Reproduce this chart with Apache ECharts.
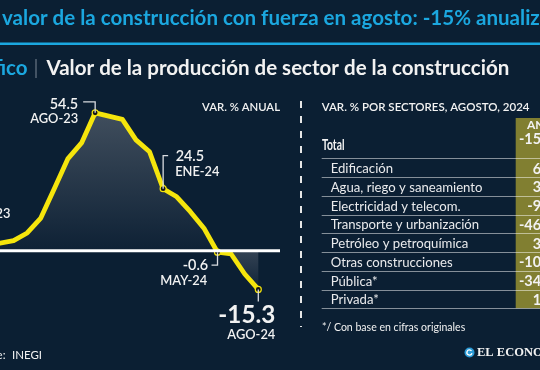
<!DOCTYPE html>
<html><head><meta charset="utf-8">
<script src="https://cdn.jsdelivr.net/npm/echarts@6/dist/echarts.min.js"></script>
<style>html,body{margin:0;padding:0;background:#0b1f33;overflow:hidden}#c{width:540px;height:370px}</style>
</head><body><div id="c"></div>
<script>
// ---- data ----
const months = ['ENE-23','FEB-23','MAR-23','ABR-23','MAY-23','JUN-23','JUL-23','AGO-23','SEP-23','OCT-23','NOV-23','DIC-23','ENE-24','FEB-24','MAR-24','ABR-24','MAY-24','JUN-24','JUL-24','AGO-24'];
const variation = [3.0,4.0,7.0,12.9,24.6,36.4,42.6,54.5,53.2,51.9,43.8,39.1,24.5,21.3,15.4,8.9,-0.6,-1.3,-9.2,-15.3];
const labeledMonths = ['AGO-23','ENE-24','MAY-24','AGO-24'];
const sectors = ['Edificación','Agua, riego y saneamiento','Electricidad y telecom.','Transporte y urbanización','Petróleo y petroquímica','Otras construcciones','Pública*','Privada*'];
const sectorValues = [6.9, 3.8, -9.7, -46.2, 3.5, -10.6, -34.9, 1.2];
const totalLabel = 'Total';
const totalValue = -15.3;
const titleText = 'valor de la construcción con fuerza en agosto: -15% anualizado';
const subtitleText = 'Valor de la producción de sector de la construcción';

// ---- styles ----
const BG = '#0b1f33', CYAN = '#1ba7df', YEL = '#f5e50c', OLIVE = '#817f31', WHITE = '#f2f2f2';
const SANS = 'Lato, "Noto Sans", sans-serif';
const ctx = document.createElement('canvas').getContext('2d');
function fit(text, weight, family, width){ ctx.font = weight + ' 100px ' + family; return 100 * width / ctx.measureText(text).width; }
function T(x, y, text, size, opts){
  opts = opts || {};
  const el = {type:'text', x:x, y:y, silent:true, z:opts.z||10, style:{text:text, fill:opts.fill||WHITE,
    fontSize:size, fontWeight:opts.weight||'normal', fontFamily:opts.family||SANS,
    align:opts.align||'left', verticalAlign:'middle'}};
  if (opts.scaleX) el.scaleX = opts.scaleX;
  return el;
}
function L(points, color, width, dash){ return {type:'polyline', silent:true, z:9, shape:{points:points}, style:{stroke:color, lineWidth:width, fill:null, lineDash:dash||null}}; }

const chart = echarts.init(document.getElementById('c'));
const Y0 = 250.7, PX = 2.53, yMin = -20, yMax = 60;
chart.setOption({
  backgroundColor: BG,
  animation:false,
  grid:{left:-10.9, width:269.2, top:Y0 - yMax*PX, height:(yMax - yMin)*PX, containLabel:false},
  xAxis:{type:'category', data:months, boundaryGap:false, show:false},
  yAxis:{type:'value', min:yMin, max:yMax, show:false},
  series:[{type:'line', data:variation, showAllSymbol:true, symbol:'circle',
    symbolSize:function(v, p){ return labeledMonths.indexOf(months[p.dataIndex]) >= 0 ? 6 : 0; },
    itemStyle:{color:'#161616', borderColor:YEL, borderWidth:1.2},
    lineStyle:{color:YEL, width:4.8, join:'round', cap:'round'},
    areaStyle:{origin:0, color:'rgba(80,90,100,0.5)'}, z:3}]
});

const pt = months.map((m, i) => chart.convertToPixel({gridIndex:0}, [m, variation[i]]));
const zeroY = chart.convertToPixel({yAxisIndex:0}, 0);
const yTop = Math.min.apply(null, pt.map(p => p[1])), yBot = Math.max.apply(null, pt.map(p => p[1]));
const zo = (zeroY - yTop) / (yBot - yTop);
const grad = new echarts.graphic.LinearGradient(0, yTop, 0, yBot, [
  {offset:0, color:'#57626f'}, {offset:zo, color:'#0f2236'},
  {offset:Math.min(zo + 0.01, 1), color:'#435060'}, {offset:1, color:'#11253a'}], true);

const P = m => pt[months.indexOf(m)];
const g = [];
// header
const tSize = fit('valor de la construcción con fuerza en agosto: -15% anualiz', 'bold', SANS, 538);
g.push(T(2, 18, titleText, tSize, {fill:CYAN, weight:'bold'}));
g.push({type:'rect', silent:true, shape:{x:0, y:42.5, width:540, height:2.5}, style:{fill:CYAN}});
const sSize = fit(subtitleText, 'bold', SANS, 463);
g.push(T(27.5, 68, 'Gráfico', sSize, {fill:CYAN, weight:'bold', align:'right'}));
g.push({type:'rect', silent:true, shape:{x:35.5, y:59, width:1, height:19}, style:{fill:'#7d8796'}});
g.push(T(46.5, 68, subtitleText, sSize, {weight:'bold'}));
// chart
g.push(L([[0, zeroY], [280, zeroY]], '#ffffff', 3));
g.push(T(280, 107, 'VAR. % ANUAL', fit('VAR. % ANUAL', '600', SANS, 78), {align:'right', weight:'600'}));
const nSize = fit('54.5', '600', SANS, 28.5), mSize = fit('AGO-23', '600', SANS, 48);
const LC = '#d8dbe0';
let p = P('AGO-23');
g.push(L([[p[0], p[1]], [p[0], p[1]-11], [p[0]-12, p[1]-11]], LC, 1.3));
g.push(T(p[0]-17, p[1]-8.7, variation[months.indexOf('AGO-23')].toFixed(1), nSize, {align:'right', weight:'600'}));
g.push(T(p[0]-17, p[1]+6, 'AGO-23', mSize, {align:'right', weight:'600'}));
p = P('ENE-24');
g.push(L([[p[0], p[1]], [p[0], p[1]-33], [p[0]+5, p[1]-33]], LC, 1.3));
g.push(T(p[0]+12.5, p[1]-32.8, variation[months.indexOf('ENE-24')].toFixed(1), nSize, {weight:'600'}));
g.push(T(p[0]+12, p[1]-17.3, 'ENE-24', mSize, {weight:'600'}));
p = P('MAY-24');
g.push(L([[p[0], p[1]], [p[0], p[1]+13], [p[0]-6, p[1]+13]], LC, 1.3));
g.push(T(p[0]-9.3, p[1]+12.8, variation[months.indexOf('MAY-24')].toFixed(1), nSize, {align:'right', weight:'600'}));
g.push(T(p[0]-10.3, p[1]+28.3, 'MAY-24', mSize, {align:'right', weight:'600'}));
p = P('AGO-24');
g.push(L([[p[0], p[1]], [p[0], p[1]+12]], LC, 1.3));
g.push(T(p[0]+17, p[1]+25.5, variation[months.indexOf('AGO-24')].toFixed(1), fit('-15.3', 'bold', SANS, 57), {align:'right', weight:'bold'}));
g.push(T(p[0]+17, p[1]+45, 'AGO-24', mSize, {align:'right', weight:'600'}));
g.push(T(10.5, 213.5, 'FEB-23', mSize, {align:'right', weight:'600'}));
// dashed divider
g.push(L([[301, 101], [301, 327]], '#e6e6e6', 2, [7, 8]));
// table
g.push(T(321.7, 107, 'VAR. % POR SECTORES, AGOSTO, 2024', fit('VAR. % POR SECTORES, AGOSTO, 2024', '600', SANS, 208), {weight:'600'}));
g.push({type:'rect', silent:true, z:5, shape:{x:515.7, y:118, width:40, height:190.3}, style:{fill:OLIVE}});
for (let k = 0; k <= sectors.length; k++) {
  const y = Math.round(158.3 + k*18.75) + 0.5;
  g.push(L([[321.7, y], [540, y]], 'rgba(255,255,255,0.5)', 1));
}
const vSize = 14.5;
g.push(T(527, 125, 'ANUAL', 12, {weight:'bold'}));
const totSize = 15;
ctx.font = 'bold ' + totSize + 'px ' + SANS;
const totScale = 22.5 / ctx.measureText(totalLabel).width;
g.push(T(322, 145.5, totalLabel, totSize, {weight:'bold', scaleX:totScale}));
g.push(T(553, 139.5, totalValue.toFixed(1), vSize, {weight:'bold', align:'right'}));
const rSize = fit('Agua, riego y saneamiento', 'normal', SANS, 152);
sectors.forEach((s, k) => {
  const y = 169 + k*18.75;
  g.push(T(330.7, y, s, rSize, {fill:'#e9eaec'}));
  g.push(T(553, y, sectorValues[k].toFixed(1), vSize, {weight:'bold', align:'right'}));
});
g.push(T(322, 327.6, '*/ Con base en cifras originales', fit('*/ Con base en cifras originales', 'normal', SANS, 143.5)));
// footer
const fSize = fit('INEGI', 'normal', SANS, 30);
g.push(T(5.5, 355, 'Fuente:', fSize, {align:'right'}));
g.push(T(12, 355, 'INEGI', fSize));
g.push({type:'circle', silent:true, shape:{cx:469.5, cy:352.5, r:5}, style:{fill:'#2a9ad6'}});
g.push({type:'arc', silent:true, shape:{cx:469.5, cy:352.5, r:2.6, startAngle:0.3, endAngle:5.6}, style:{stroke:'#ffffff', lineWidth:1.3, fill:null}});
g.push(T(477, 353, 'EL ECONOMISTA', 12.5, {family:'"Liberation Serif", "DejaVu Serif", serif', weight:'bold'}));

chart.setOption({series:[{areaStyle:{origin:0, color:grad}}], graphic:g});
</script></body></html>
